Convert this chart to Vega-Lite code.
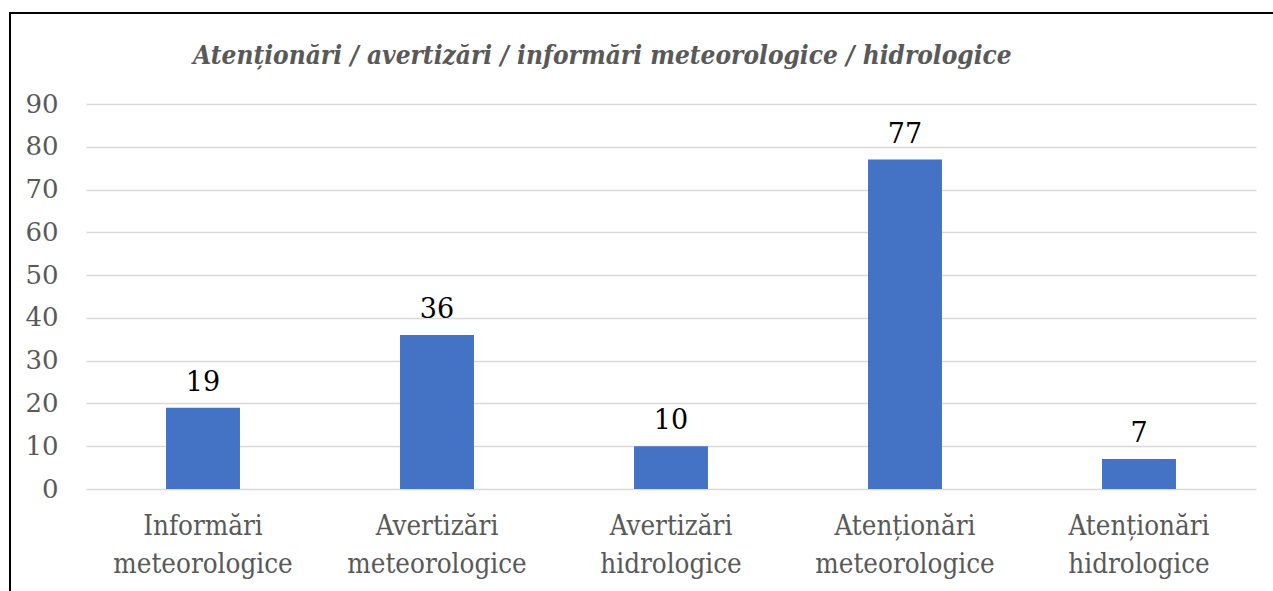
{
  "$schema": "https://vega.github.io/schema/vega-lite/v6.json",
  "width": 1273,
  "height": 588,
  "autosize": {"type": "none"},
  "padding": {"left": 10, "top": 13, "right": -10, "bottom": -10},
  "background": "white",
  "config": {
    "view": {"stroke": "black", "strokeWidth": 2}
  },
  "title": {
    "text": "Atenționări / avertizări / informări meteorologice / hidrologice",
    "font": "DejaVu Serif Condensed",
    "fontSize": 26,
    "fontStyle": "italic",
    "fontWeight": "bold",
    "color": "#595959",
    "anchor": "start",
    "frame": "group",
    "baseline": "alphabetic",
    "offset": 0,
    "dx": 183,
    "dy": 77
  },
  "data": {
    "values": [
      {"category": "Informări meteorologice", "value": 19},
      {"category": "Avertizări meteorologice", "value": 36},
      {"category": "Avertizări hidrologice", "value": 10},
      {"category": "Atenționări meteorologice", "value": 77},
      {"category": "Atenționări hidrologice", "value": 7}
    ]
  },
  "encoding": {
    "x": {
      "field": "category",
      "type": "nominal",
      "sort": null,
      "scale": {"range": [76, 1246], "paddingInner": 0.684, "paddingOuter": 0.342},
      "axis": {
        "title": null,
        "orient": "bottom",
        "offset": -112,
        "domain": false,
        "ticks": false,
        "grid": false,
        "labelAngle": 0,
        "labelExpr": "split(datum.label, ' ')",
        "labelFont": "DejaVu Serif Condensed",
        "labelFontSize": 27.5,
        "labelColor": "#595959",
        "labelBaseline": "alphabetic",
        "labelLineHeight": 38,
        "labelPadding": 45
      }
    },
    "y": {
      "field": "value",
      "type": "quantitative",
      "scale": {"domain": [0, 90], "range": [476, 91], "nice": false, "zero": true},
      "axis": {
        "title": null,
        "orient": "left",
        "offset": -56,
        "values": [0, 10, 20, 30, 40, 50, 60, 70, 80, 90],
        "domain": false,
        "ticks": false,
        "grid": true,
        "gridColor": "#d9d9d9",
        "gridWidth": 1.5,
        "labelFont": "DejaVu Serif",
        "labelFontSize": 26,
        "labelColor": "#595959",
        "labelPadding": 8
      }
    }
  },
  "layer": [
    {"mark": {"type": "bar", "color": "#4472C4"}},
    {
      "mark": {"type": "text", "color": "black", "fontSize": 27, "font": "DejaVu Serif", "baseline": "alphabetic", "dy": -17},
      "encoding": {"text": {"field": "value", "type": "quantitative"}}
    }
  ]
}
